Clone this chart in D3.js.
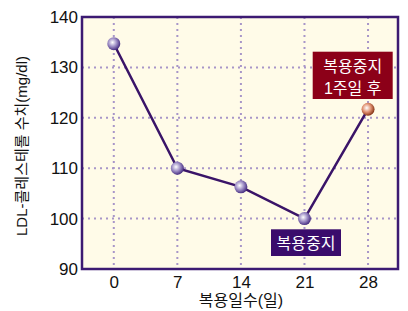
<!DOCTYPE html>
<html>
<head>
<meta charset="utf-8">
<script src="https://cdn.jsdelivr.net/npm/d3@7"></script>
<style>
  body { margin: 0; background: #fff; }
  text { font-family: "Liberation Sans", Arial, "Noto Sans CJK KR", sans-serif; }
</style>
</head>
<body>
<svg id="chart" width="408" height="311"></svg>
<script>
// data
var days = [0, 7, 14, 21, 28];
var ldl = [134.7, 110.0, 106.3, 100.0, 121.7];
var yTicks = [90, 100, 110, 120, 130, 140];
var xTitle = "복용일수(일)";
var yTitle = "LDL-콜레스테롤 수치(mg/dl)";
var noteStop = ["복용중지"];
var noteAfter = ["복용중지", "1주일 후"];

var svg = d3.select("#chart");
var plotL = 82, plotR = 398, plotT = 17, plotB = 269;

var x = d3.scaleLinear().domain([-3.5, 31.3]).range([plotL, plotR]);
var y = d3.scaleLinear().domain([90, 140]).range([plotB, plotT]);

var defs = svg.append("defs");
function ball(id, light, mid, dark) {
    var g = defs.append("radialGradient").attr("id", id)
        .attr("cx", "40%").attr("cy", "40%").attr("r", "60%");
    g.append("stop").attr("offset", "0%").attr("stop-color", light);
    g.append("stop").attr("offset", "55%").attr("stop-color", mid);
    g.append("stop").attr("offset", "100%").attr("stop-color", dark);
}
ball("purpleBall", "#ffffff", "#9c8cc4", "#4a3283");
ball("orangeBall", "#ffffff", "#e09070", "#8a3a1c");

// plot background
svg.append("rect")
    .attr("x", plotL).attr("y", plotT)
    .attr("width", plotR - plotL).attr("height", plotB - plotT)
    .attr("fill", "#fffbe8");

// grid
var grid = svg.append("g").attr("stroke", "#a896c8").attr("stroke-width", 2)
    .attr("stroke-dasharray", "2,4");
grid.selectAll(".hg").data(yTicks.slice(1, -1)).enter().append("line")
    .attr("x1", plotL).attr("x2", plotR)
    .attr("y1", function(d) { return y(d); }).attr("y2", function(d) { return y(d); });
grid.selectAll(".vg").data(days).enter().append("line")
    .attr("y1", plotT).attr("y2", plotB)
    .attr("x1", function(d) { return x(d); }).attr("x2", function(d) { return x(d); });

// frame
svg.append("rect")
    .attr("x", plotL).attr("y", plotT)
    .attr("width", plotR - plotL).attr("height", plotB - plotT)
    .attr("fill", "none").attr("stroke", "#3c1a72").attr("stroke-width", 2.5);

// axes (labels only)
var yAxis = svg.append("g").attr("transform", "translate(" + (plotL - 4) + ",0)")
    .call(d3.axisLeft(y).tickValues(yTicks).tickSize(0).tickPadding(0));
var xAxis = svg.append("g").attr("transform", "translate(0," + plotB + ")")
    .call(d3.axisBottom(x).tickValues(days).tickSize(0).tickPadding(7));
[yAxis, xAxis].forEach(function(a) {
    a.select(".domain").remove();
    a.selectAll("text").attr("font-size", 17).attr("fill", "#111")
        .attr("font-family", "'Liberation Sans', Arial, sans-serif");
});

// line
var line = d3.line()
    .x(function(d, i) { return x(days[i]); })
    .y(function(d) { return y(d); });
svg.append("path").datum(ldl)
    .attr("d", line)
    .attr("fill", "none").attr("stroke", "#3a1468").attr("stroke-width", 2.5);

svg.selectAll(".pt").data(ldl).enter().append("circle")
    .attr("cx", function(d, i) { return x(days[i]); })
    .attr("cy", function(d) { return y(d); })
    .attr("r", 6.5)
    .attr("fill", function(d, i) { return i == ldl.length - 1 ? "url(#orangeBall)" : "url(#purpleBall)"; });

// notes
function note(lines, cx, ty, w, h, color) {
    svg.append("rect").attr("x", cx - w / 2).attr("y", ty).attr("width", w).attr("height", h)
        .attr("fill", color);
    lines.forEach(function(t, i) {
        svg.append("text").attr("x", cx).attr("y", ty + 20 + i * 22)
            .attr("text-anchor", "middle").attr("fill", "#fff").attr("font-size", 16)
            .attr("font-family", "'Noto Sans CJK KR', sans-serif")
            .text(t);
    });
}
note(noteAfter, 352.7, 51.7, 80, 47.3, "#8c0018");
note(noteStop, 306, 229.3, 70, 26.7, "#3a0c6c");

// axis titles
svg.append("text").attr("x", 241).attr("y", 306)
    .attr("text-anchor", "middle").attr("font-size", 16).attr("fill", "#111")
    .attr("font-family", "'Noto Sans CJK KR', sans-serif")
    .text(xTitle);
svg.append("text").attr("transform", "translate(27,146) rotate(-90)")
    .attr("text-anchor", "middle").attr("font-size", 15).attr("fill", "#111")
    .attr("font-family", "'Noto Sans CJK KR', sans-serif")
    .text(yTitle);
</script>
</body>
</html>
